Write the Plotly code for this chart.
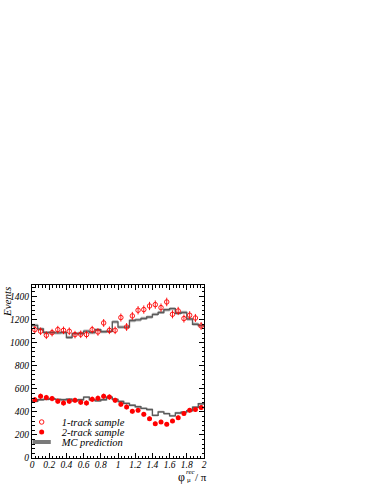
import numpy as np
import plotly.graph_objects as go

# ---------------- data ----------------
PHI_MIN, PHI_MAX, N_BINS = 0.0, 2.0, 30

ONE_TRACK = [1113, 1099, 1064, 1087, 1113, 1107, 1099, 1070, 1073, 1070,
             1113, 1093, 1171, 1107, 1107, 1218, 1136, 1232, 1281, 1287,
             1318, 1330, 1304, 1353, 1246, 1275, 1209, 1238, 1214, 1145]
ONE_TRACK_ERR = [33, 33, 33, 33, 33, 33, 33, 33, 33, 33,
                 33, 33, 34, 33, 33, 35, 34, 35, 36, 36,
                 36, 36, 36, 37, 35, 36, 35, 35, 35, 34]

TWO_TRACK = [506, 535, 524, 515, 492, 477, 492, 500, 483, 477,
             509, 518, 535, 528, 500, 466, 443, 405, 414, 379,
             341, 298, 313, 292, 321, 350, 385, 414, 420, 437]
TWO_TRACK_ERR = [22, 23, 23, 23, 22, 22, 22, 22, 22, 22,
                 23, 23, 23, 23, 22, 22, 21, 20, 20, 19,
                 18, 17, 18, 17, 18, 19, 20, 20, 20, 21]

MC_ONE = [1150, 1118, 1088, 1088, 1085, 1088, 1045, 1078, 1080, 1100,
          1088, 1112, 1095, 1098, 1180, 1135, 1135, 1192, 1198, 1210,
          1222, 1245, 1262, 1285, 1295, 1255, 1262, 1205, 1160, 1148]
MC_ONE_ERR = [14] * 30

MC_TWO = [492, 505, 508, 515, 508, 505, 510, 495, 505, 528,
          505, 495, 505, 528, 508, 490, 474, 457, 445, 430,
          420, 370, 400, 385, 365, 390, 398, 410, 440, 470]
MC_TWO_ERR = [10] * 30

X_TICKS = [0, 0.2, 0.4, 0.6, 0.8, 1, 1.2, 1.4, 1.6, 1.8, 2]
X_TICK_TEXT = ["0", "0.2", "0.4", "0.6", "0.8", "1", "1.2", "1.4", "1.6", "1.8", "2"]
Y_TICKS = [0, 200, 400, 600, 800, 1000, 1200, 1400]

# ---------------- derived ----------------
edges = np.linspace(PHI_MIN, PHI_MAX, N_BINS + 1)
centers = 0.5 * (edges[:-1] + edges[1:])


def step(vals):
    v = list(vals)
    return v + [v[-1]]


SERIF = "Liberation Serif, Times New Roman, serif"
BAND = "#bdbdbd"
LINE = "#5a5a5a"
RED = "#ff0000"

fig = go.Figure()

for mc, err in ((MC_ONE, MC_ONE_ERR), (MC_TWO, MC_TWO_ERR)):
    lo = np.array(mc) - np.array(err)
    hi = np.array(mc) + np.array(err)
    fig.add_trace(go.Scatter(x=edges, y=step(lo), mode="lines", line=dict(width=0, shape="hv"),
                             showlegend=False, hoverinfo="skip"))
    fig.add_trace(go.Scatter(x=edges, y=step(hi), mode="lines", line=dict(width=0, shape="hv"),
                             fill="tonexty", fillcolor=BAND, showlegend=False, hoverinfo="skip"))
    fig.add_trace(go.Scatter(x=edges, y=step(mc), mode="lines",
                             line=dict(color=LINE, width=1.4, shape="hv"),
                             showlegend=False))

fig.add_trace(go.Scatter(x=centers, y=ONE_TRACK, mode="markers", name="1-track sample",
                         marker=dict(symbol="circle-open", size=4.5, color=RED, line=dict(width=0.9, color=RED)),
                         error_y=dict(type="data", array=ONE_TRACK_ERR, color=RED, thickness=0.9, width=0),
                         legend="legend"))
fig.add_trace(go.Scatter(x=centers, y=TWO_TRACK, mode="markers", name="2-track sample",
                         marker=dict(symbol="circle", size=5, color=RED),
                         error_y=dict(type="data", array=TWO_TRACK_ERR, color=RED, thickness=1, width=0),
                         legend="legend2"))
fig.add_trace(go.Scatter(x=[None], y=[None], mode="markers", name="MC prediction",
                         marker=dict(symbol="line-ew", size=13, color=LINE,
                                     line=dict(width=4, color="#7a7a7a")),
                         legend="legend3"))

leg_common = dict(xanchor="left", yanchor="middle", bgcolor="rgba(0,0,0,0)", borderwidth=0,
                  font=dict(family=SERIF, size=10.5, style="italic"), itemwidth=30,
                  traceorder="normal")


def y_paper(px):
    # convert a pixel row of the page into paper coordinates of the plot area
    return (458 - px) / 173.0


def x_paper(px):
    return (px - 32) / 172.0


fig.update_layout(
    width=374, height=484,
    margin=dict(l=32, r=170, t=285, b=26, autoexpand=False),
    paper_bgcolor="white", plot_bgcolor="white",
    font=dict(family=SERIF, size=10, color="black"),
    showlegend=True,
    legend=dict(x=-0.06, y=y_paper(422), **leg_common),
    legend2=dict(x=-0.06, y=y_paper(432), **leg_common),
    legend3=dict(x=-0.06, y=y_paper(442), **leg_common),
    xaxis=dict(range=[PHI_MIN, PHI_MAX], tickvals=X_TICKS, ticktext=X_TICK_TEXT,
               ticks="inside", ticklen=5, tickcolor="black", tickwidth=1,
               minor=dict(ticks="inside", ticklen=2.5, dtick=0.04, tickcolor="black"),
               showline=True, linecolor="black", linewidth=1, mirror="ticks",
               showgrid=False, zeroline=False, automargin=False, ticklabelstandoff=-2,
               tickfont=dict(family=SERIF, size=9.5, style="italic")),
    yaxis=dict(range=[0, 1500], tickvals=Y_TICKS,
               ticks="inside", ticklen=5, tickcolor="black", tickwidth=1,
               minor=dict(ticks="inside", ticklen=2.5, dtick=40, tickcolor="black"),
               showline=True, linecolor="black", linewidth=1, mirror="ticks",
               showgrid=False, zeroline=False, automargin=False,
               tickfont=dict(family=SERIF, size=9.5, style="italic")),
)

fig.add_annotation(text="Events", xref="paper", yref="paper", x=x_paper(7), y=1.0,
                   xanchor="center", yanchor="top", textangle=-90, showarrow=False,
                   font=dict(family=SERIF, size=11, style="italic"))
# x-axis title: φ with stacked super/subscript, then "/ π"
title_parts = [("φ", 181, 476.5, 12), ("rec", 191, 472, 7), ("μ", 189, 479.5, 7), ("/ π", 201, 476.5, 11)]
for txt, px, py, sz in title_parts:
    fig.add_annotation(text=txt, xref="paper", yref="paper", x=x_paper(px), y=y_paper(py),
                       xanchor="center", yanchor="middle", showarrow=False,
                       font=dict(family=SERIF, size=sz, style="italic" if txt == "rec" else "normal"))

fig.write_html("out.html", config={"displayModeBar": False},
               post_script="document.body.style.margin='0';")
